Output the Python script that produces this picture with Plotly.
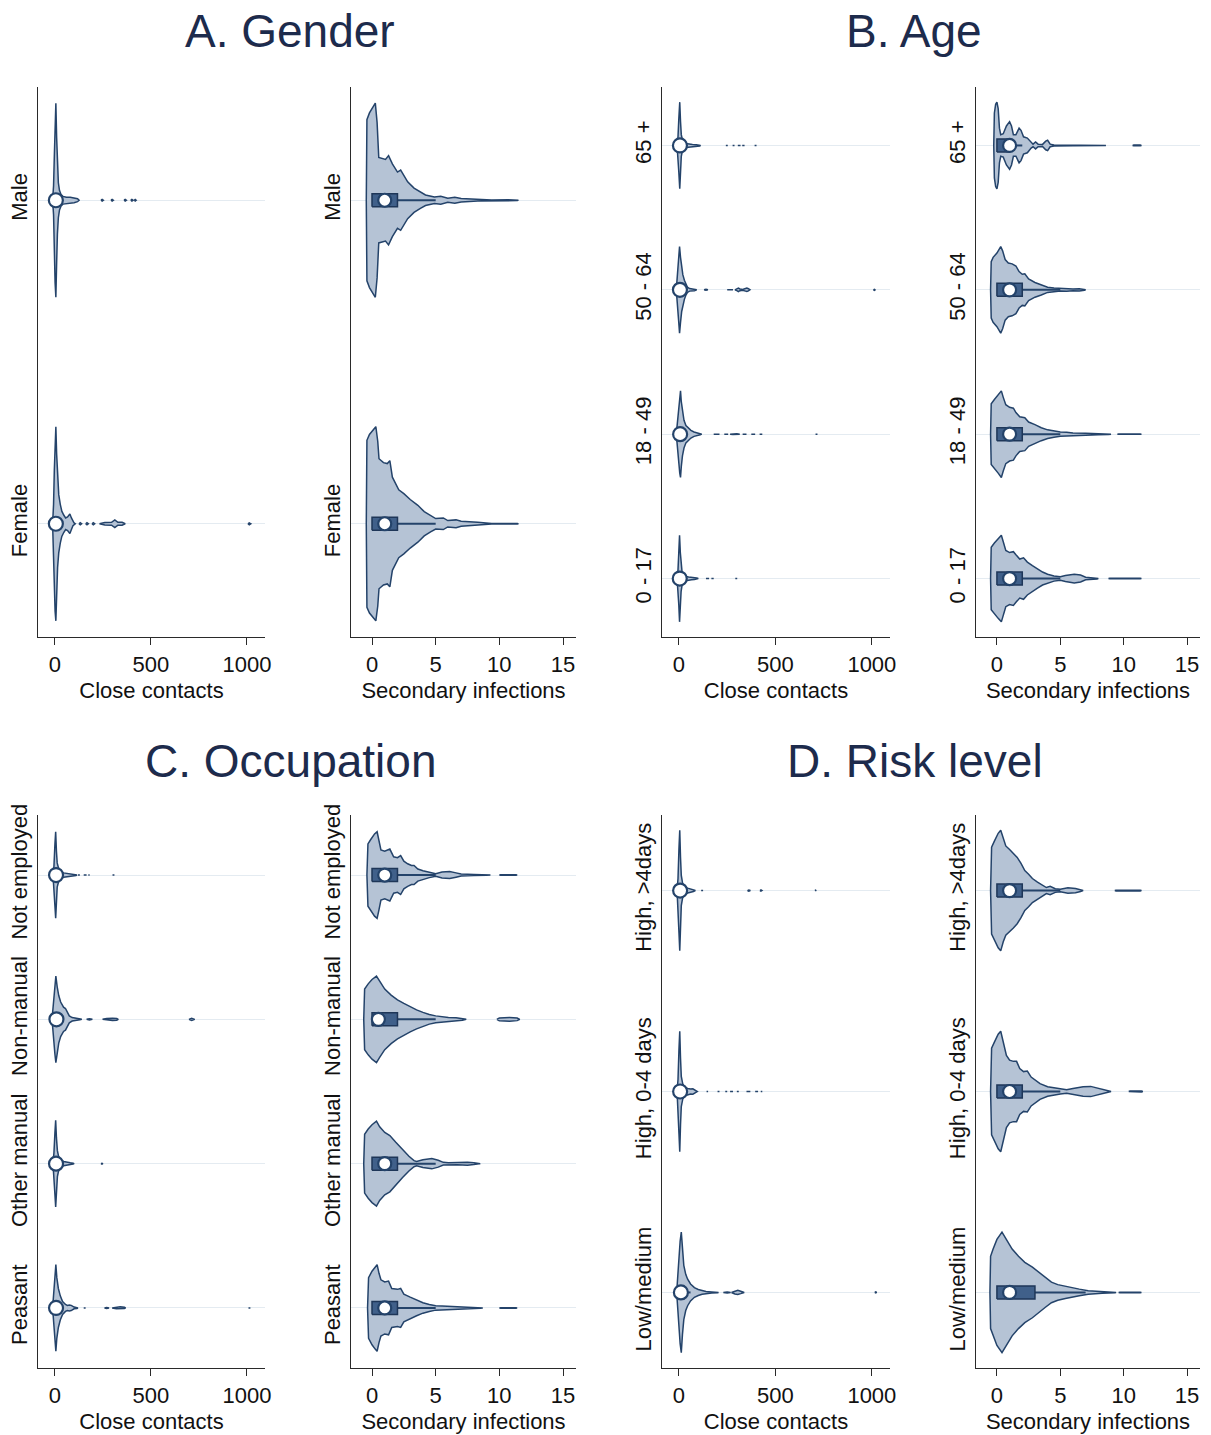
import plotly.graph_objects as go

# ---------------- categories (bottom -> top) ----------------
gender_cats = ["Female", "Male"]
age_cats = ["0 - 17", "18 - 49", "50 - 64", "65 +"]
occ_cats = ["Peasant", "Other manual", "Non-manual", "Not employed"]
risk_cats = ["Low/medium", "High, 0-4 days", "High, >4days"]

cc_ticks = [0, 500, 1000]
si_ticks = [0, 5, 10, 15]
cc_title = "Close contacts"
si_title = "Secondary infections"
panel_titles = ["A. Gender", "B. Age", "C. Occupation", "D. Risk level"]

# ---------------- violin profiles: (value, relative density) ----------------
# Gender - close contacts
female_cc = [(-12, 0), (-7, 0.2), (-3, 0.55), (1, 0.9), (5, 1.0), (9, 0.72), (14, 0.45), (20, 0.3),
             (28, 0.2), (36, 0.13), (46, 0.09), (56, 0.06), (66, 0.07), (78, 0.1), (86, 0.06),
             (94, 0.02), (100, 0.008), (106, 0),
             (125, 0), (132, 0.01), (139, 0), (160, 0), (167, 0.01), (174, 0), (193, 0), (200, 0.01), (207, 0),
             (232, 0), (260, 0.012), (295, 0.015), (312, 0.04), (328, 0.015), (350, 0.015), (366, 0),
             (1005, 0), (1012, 0.01), (1020, 0)]
male_cc = [(-12, 0), (-7, 0.15), (-3, 0.45), (1, 0.85), (5, 1.0), (9, 0.65), (13, 0.35), (18, 0.18),
           (24, 0.1), (32, 0.06), (42, 0.04), (60, 0.03), (80, 0.03), (100, 0.025), (118, 0.015), (126, 0),
           (240, 0), (246, 0.008), (252, 0), (292, 0), (298, 0.008), (304, 0), (360, 0), (366, 0.008), (372, 0),
           (395, 0), (401, 0.008), (407, 0), (413, 0), (418, 0.008), (423, 0)]
# Gender - secondary infections
female_si = [(-0.45, 0), (-0.4, 0.86), (-0.2, 0.92), (0.1, 0.97), (0.3, 1.0), (0.45, 0.85), (0.55, 0.67),
             (0.9, 0.63), (1.2, 0.62), (1.4, 0.65), (1.6, 0.48), (2.1, 0.35), (2.5, 0.31), (3.0, 0.25),
             (3.6, 0.19), (4.1, 0.125), (4.6, 0.083), (5.0, 0.054), (5.6, 0.06), (5.95, 0.033), (6.6, 0.04),
             (7.0, 0.025), (8.3, 0.015), (8.9, 0.008), (9.4, 0.003), (11.4, 0.003), (11.5, 0)]
male_si = [(-0.45, 0), (-0.4, 0.83), (-0.2, 0.9), (0.05, 0.96), (0.26, 1.0), (0.4, 0.8), (0.53, 0.44),
           (1.06, 0.42), (1.3, 0.46), (1.6, 0.375), (2.0, 0.29), (2.25, 0.31), (2.8, 0.19), (3.3, 0.125),
           (3.8, 0.083), (4.2, 0.054), (4.9, 0.033), (5.4, 0.042), (5.95, 0.02), (6.5, 0.03), (7.0, 0.017),
           (8.3, 0.008), (9.4, 0.003), (10.7, 0.004), (11.4, 0.004), (11.5, 0)]

# Age - close contacts
a0017_cc = [(-10, 0), (-5, 0.2), (-1, 0.6), (3, 1.0), (7, 0.6), (11, 0.3), (16, 0.15), (24, 0.08), (35, 0.05),
            (50, 0.035), (65, 0.03), (80, 0.025), (92, 0.015), (100, 0),
            (140, 0), (148, 0.006), (156, 0), (168, 0), (174, 0.006), (180, 0), (292, 0), (297, 0.005), (302, 0)]
a1849_cc = [(-14, 0), (-8, 0.25), (-2, 0.6), (4, 0.9), (8, 1.0), (12, 0.75), (18, 0.5), (26, 0.32), (36, 0.2),
            (48, 0.14), (62, 0.09), (78, 0.05), (95, 0.03), (110, 0.015), (118, 0),
            (180, 0), (195, 0.006), (210, 0), (235, 0), (245, 0.008), (255, 0), (265, 0), (280, 0.006),
            (300, 0.008), (315, 0), (330, 0), (340, 0.006), (350, 0), (375, 0), (385, 0.008), (395, 0),
            (418, 0), (425, 0.008), (432, 0), (708, 0), (713, 0.006), (718, 0)]
a5064_cc = [(-14, 0), (-8, 0.3), (-2, 0.7), (3, 1.0), (8, 0.75), (14, 0.5), (20, 0.35), (28, 0.22), (36, 0.12),
            (44, 0.06), (55, 0.03), (65, 0.02), (80, 0.02), (92, 0),
            (130, 0), (140, 0.01), (150, 0), (250, 0), (265, 0.008), (280, 0), (290, 0), (300, 0.02),
            (308, 0.04), (316, 0.02), (330, 0.01), (345, 0.03), (352, 0.04), (360, 0.025), (368, 0),
            (1008, 0), (1013, 0.012), (1018, 0)]
a65_cc = [(-10, 0), (-5, 0.2), (-1, 0.6), (4, 1.0), (8, 0.55), (12, 0.25), (18, 0.12), (26, 0.07), (36, 0.045),
          (50, 0.03), (70, 0.02), (90, 0.015), (108, 0.01), (112, 0),
          (243, 0), (248, 0.006), (253, 0), (278, 0), (283, 0.006), (288, 0), (305, 0), (312, 0.006), (319, 0),
          (328, 0), (334, 0.006), (340, 0), (392, 0), (397, 0.008), (402, 0)]
# Age - secondary infections
a0017_si = [(-0.5, 0), (-0.45, 0.72), (-0.2, 0.82), (0.1, 0.92), (0.35, 1.0), (0.5, 0.85), (0.7, 0.65),
            (1.0, 0.6), (1.3, 0.62), (1.5, 0.55), (1.8, 0.45), (2.1, 0.48), (2.4, 0.38), (2.8, 0.3),
            (3.2, 0.22), (3.6, 0.15), (4.0, 0.1), (4.5, 0.06), (5.0, 0.04), (5.4, 0.07), (6.1, 0.1),
            (6.6, 0.08), (7.0, 0.03), (7.5, 0.02), (7.9, 0.01), (8.0, 0), (8.8, 0), (8.9, 0.004),
            (11.3, 0.004), (11.4, 0)]
a1849_si = [(-0.5, 0), (-0.45, 0.7), (-0.2, 0.8), (0.1, 0.9), (0.35, 1.0), (0.5, 0.85), (0.7, 0.68),
            (1.0, 0.62), (1.3, 0.6), (1.5, 0.5), (1.8, 0.4), (2.2, 0.38), (2.5, 0.28), (3.0, 0.22),
            (3.5, 0.15), (4.0, 0.1), (4.5, 0.07), (5.0, 0.05), (5.5, 0.045), (6.0, 0.03), (7.0, 0.02),
            (8.0, 0.012), (8.8, 0.008), (9.0, 0), (9.5, 0), (9.6, 0.004), (11.3, 0.004), (11.4, 0)]
a5064_si = [(-0.5, 0), (-0.45, 0.65), (-0.3, 0.75), (0.0, 0.85), (0.3, 1.0), (0.45, 0.9), (0.65, 0.7),
            (0.9, 0.62), (1.2, 0.6), (1.5, 0.55), (1.75, 0.42), (2.0, 0.36), (2.2, 0.37), (2.5, 0.25),
            (3.0, 0.17), (3.5, 0.12), (4.0, 0.06), (4.5, 0.04), (5.0, 0.03), (5.5, 0.035), (6.0, 0.02),
            (6.5, 0.025), (6.9, 0.01), (7.0, 0)]
a65_si = [(-0.25, 0), (-0.2, 0.75), (-0.1, 0.95), (0.0, 1.0), (0.1, 0.85), (0.2, 0.4), (0.3, 0.25),
          (0.5, 0.27), (0.75, 0.45), (1.0, 0.55), (1.15, 0.45), (1.3, 0.25), (1.5, 0.25), (1.75, 0.4),
          (1.9, 0.35), (2.1, 0.2), (2.4, 0.17), (2.7, 0.06), (2.85, 0.03), (3.05, 0.08), (3.25, 0.03),
          (3.6, 0.025), (3.85, 0.1), (4.0, 0.12), (4.2, 0.03), (4.5, 0.01), (6.0, 0.006), (7.0, 0.005),
          (8.5, 0.004), (8.6, 0), (10.7, 0), (10.8, 0.008), (11.3, 0.008), (11.4, 0)]

# Occupation - close contacts
peasant_cc = [(-12, 0), (-6, 0.3), (0, 0.75), (5, 1.0), (10, 0.7), (18, 0.45), (28, 0.28), (40, 0.15),
              (55, 0.08), (65, 0.06), (75, 0.07), (85, 0.06), (100, 0.02), (115, 0.01), (120, 0),
              (150, 0), (155, 0.005), (160, 0), (258, 0), (270, 0.01), (282, 0), (298, 0), (320, 0.02),
              (340, 0.025), (362, 0.015), (368, 0), (1008, 0), (1013, 0.008), (1018, 0)]
othman_cc = [(-10, 0), (-5, 0.25), (0, 0.7), (4, 1.0), (8, 0.6), (13, 0.3), (20, 0.15), (30, 0.08),
             (45, 0.05), (60, 0.03), (80, 0.02), (95, 0.01), (100, 0), (240, 0), (245, 0.01), (250, 0)]
nonman_cc = [(-15, 0), (-8, 0.35), (0, 0.8), (5, 1.0), (12, 0.75), (20, 0.55), (30, 0.4), (45, 0.28),
             (55, 0.25), (65, 0.15), (75, 0.08), (90, 0.04), (110, 0.02), (130, 0.01), (140, 0),
             (165, 0), (180, 0.015), (195, 0), (248, 0), (270, 0.02), (300, 0.025), (322, 0.02), (330, 0),
             (698, 0), (712, 0.025), (728, 0)]
notemp_cc = [(-10, 0), (-5, 0.2), (0, 0.7), (4, 1.0), (8, 0.55), (12, 0.28), (20, 0.14), (30, 0.08),
             (45, 0.05), (60, 0.04), (75, 0.03), (90, 0.02), (110, 0.01), (115, 0),
             (120, 0), (125, 0.006), (130, 0), (150, 0), (157, 0.006), (165, 0), (174, 0), (177, 0.006),
             (181, 0), (300, 0), (305, 0.008), (310, 0)]
# Occupation - secondary infections
peasant_si = [(-0.35, 0), (-0.27, 0.7), (0.0, 0.85), (0.25, 0.95), (0.4, 1.0), (0.55, 0.8), (0.7, 0.65),
              (1.0, 0.6), (1.3, 0.62), (1.55, 0.45), (2.0, 0.43), (2.25, 0.45), (2.5, 0.32), (3.0, 0.25),
              (3.5, 0.18), (4.0, 0.12), (4.5, 0.08), (5.0, 0.05), (5.5, 0.045), (6.0, 0.04), (6.7, 0.03),
              (7.5, 0.015), (8.5, 0.006), (8.7, 0), (10.0, 0), (10.1, 0.004), (11.3, 0.004), (11.4, 0)]
othman_si = [(-0.65, 0), (-0.58, 0.68), (-0.3, 0.8), (0.0, 0.9), (0.35, 0.98), (0.6, 0.85), (1.0, 0.72),
             (1.4, 0.65), (1.85, 0.5), (2.4, 0.32), (2.9, 0.17), (3.3, 0.07), (3.5, 0.05), (4.0, 0.09),
             (4.7, 0.12), (5.2, 0.08), (5.6, 0.03), (6.0, 0.02), (6.7, 0.025), (7.5, 0.035), (8.0, 0.02),
             (8.4, 0.005), (8.5, 0)]
nonman_si = [(-0.65, 0), (-0.58, 0.7), (-0.3, 0.82), (0.0, 0.92), (0.35, 1.0), (0.6, 0.88), (1.0, 0.7),
             (1.5, 0.56), (2.0, 0.45), (2.5, 0.37), (3.0, 0.29), (3.5, 0.22), (4.0, 0.16), (4.5, 0.11),
             (5.0, 0.08), (5.5, 0.06), (6.0, 0.045), (6.6, 0.035), (7.1, 0.02), (7.4, 0),
             (9.8, 0), (10.0, 0.03), (10.8, 0.045), (11.4, 0.03), (11.6, 0)]
notemp_si = [(-0.4, 0), (-0.32, 0.72), (-0.1, 0.82), (0.2, 0.95), (0.4, 1.0), (0.55, 0.8), (0.7, 0.58),
             (1.0, 0.55), (1.4, 0.6), (1.7, 0.42), (2.0, 0.4), (2.25, 0.45), (2.5, 0.32), (2.8, 0.26),
             (3.1, 0.22), (3.3, 0.22), (3.6, 0.14), (4.0, 0.1), (4.5, 0.06), (5.0, 0.03), (5.5, 0.07),
             (6.1, 0.08), (6.6, 0.05), (7.0, 0.025), (8.0, 0.012), (9.0, 0.006), (9.3, 0),
             (10.0, 0), (10.1, 0.006), (11.3, 0.006), (11.4, 0)]

# Risk level - close contacts
lowmed_cc = [(-12, 0), (-6, 0.3), (0, 0.6), (6, 0.85), (12, 1.0), (18, 0.7), (25, 0.45), (35, 0.3),
             (45, 0.22), (60, 0.14), (80, 0.08), (100, 0.05), (120, 0.03), (140, 0.015), (170, 0.008),
             (200, 0.004), (205, 0),
             (230, 0), (250, 0.008), (268, 0), (272, 0), (290, 0.025), (305, 0.035), (320, 0.02), (338, 0),
             (1015, 0), (1020, 0.008), (1025, 0)]
high04_cc = [(-10, 0), (-5, 0.2), (0, 0.7), (4, 1.0), (8, 0.55), (12, 0.25), (20, 0.12), (30, 0.07),
             (45, 0.05), (60, 0.04), (72, 0.045), (80, 0.03), (90, 0.01), (95, 0),
             (143, 0), (147, 0.005), (151, 0), (200, 0), (205, 0.005), (210, 0), (240, 0), (245, 0.005),
             (250, 0), (265, 0), (272, 0.005), (280, 0), (300, 0), (305, 0.005), (310, 0), (350, 0),
             (360, 0.006), (370, 0), (395, 0), (402, 0.005), (410, 0), (424, 0), (428, 0.005), (432, 0)]
high4p_cc = [(-10, 0), (-5, 0.2), (0, 0.7), (4, 1.0), (8, 0.55), (12, 0.25), (20, 0.1), (30, 0.06),
             (45, 0.04), (60, 0.025), (75, 0.015), (85, 0),
             (115, 0), (120, 0.005), (125, 0), (355, 0), (362, 0.01), (370, 0), (420, 0), (425, 0.01),
             (430, 0), (705, 0), (708, 0.008), (712, 0)]
# Risk level - secondary infections
lowmed_si = [(-0.55, 0), (-0.5, 0.6), (-0.3, 0.72), (0.0, 0.88), (0.4, 1.0), (0.7, 0.9), (1.2, 0.72),
             (1.7, 0.6), (2.2, 0.5), (2.8, 0.42), (3.3, 0.34), (3.8, 0.25), (4.3, 0.17), (4.8, 0.13),
             (5.4, 0.1), (6.0, 0.07), (6.5, 0.055), (7.2, 0.03), (8.3, 0.012), (9.3, 0.004), (9.4, 0),
             (9.6, 0), (9.7, 0.003), (11.3, 0.003), (11.4, 0)]
high04_si = [(-0.5, 0), (-0.42, 0.72), (-0.2, 0.82), (0.1, 0.95), (0.3, 1.0), (0.5, 0.8), (0.75, 0.6),
             (1.0, 0.52), (1.3, 0.5), (1.55, 0.5), (1.8, 0.38), (2.1, 0.33), (2.4, 0.34), (2.7, 0.24),
             (3.0, 0.19), (3.4, 0.13), (4.0, 0.08), (4.5, 0.06), (5.0, 0.04), (5.5, 0.03), (6.0, 0.05),
             (6.8, 0.08), (7.4, 0.085), (8.0, 0.05), (8.6, 0.02), (9.0, 0),
             (10.4, 0), (10.5, 0.01), (11.4, 0.01), (11.5, 0)]
high4p_si = [(-0.5, 0), (-0.42, 0.72), (-0.2, 0.82), (0.1, 0.95), (0.3, 1.0), (0.5, 0.85), (0.7, 0.74),
             (1.0, 0.68), (1.3, 0.62), (1.6, 0.55), (1.9, 0.45), (2.2, 0.33), (2.5, 0.27), (2.8, 0.2),
             (3.2, 0.14), (3.6, 0.09), (3.9, 0.05), (4.2, 0.07), (4.6, 0.03), (5.0, 0.02), (5.6, 0.045),
             (6.2, 0.035), (6.6, 0.015), (6.8, 0), (9.3, 0), (9.4, 0.006), (11.3, 0.006), (11.4, 0)]

# ---------------- box statistics per category: (q1, median, q3, upper adjacent) ----------------
gender_cc_box = [(1, 5, 12, 30), (1, 5, 12, 30)]
gender_si_box = [(0, 1, 2, 5), (0, 1, 2, 5)]
age_cc_box = [(1, 4, 10, 25), (1, 6, 14, 35), (1, 5, 12, 30), (1, 5, 10, 25)]
age_si_box = [(0, 1, 2, 5), (0, 1, 2, 5), (0, 1, 2, 5), (0, 1, 1, 2)]
occ_cc_box = [(1, 6, 14, 35), (1, 6, 12, 30), (1, 8, 18, 45), (1, 6, 12, 30)]
occ_si_box = [(0, 1, 2, 5), (0, 1, 2, 5), (0, 0.5, 2, 5), (0, 1, 2, 5)]
risk_cc_box = [(2, 10, 25, 60), (1, 6, 12, 30), (1, 6, 12, 30)]
risk_si_box = [(0, 1, 3, 7), (0, 1, 2, 5), (0, 1, 2, 5)]

# ---------------- styling ----------------
W, H = 1211, 1435
FONT = "Liberation Sans, Arial, Helvetica, sans-serif"
FILL = "#b5c3d5"
EDGE = "#24436a"
BOXFILL = "#40608a"
BOXEDGE = "#1e3658"
GRID = "#e4ebf1"
AXIS = "#2a2a2a"
TITLE_COL = "#1d2b4c"
HALF = 0.30          # max half-width of a violin in category units
BOX_HALF_PX = 6.5

col_px = [(38, 265), (351, 576), (662, 890), (976, 1200)]
row_px = [(87, 637), (815, 1368)]
cc_range = [-88, 1094]
si_range = [-1.65, 16.02]

panels = [
    # (row, col, cats, profiles, boxes, metric, pad)
    (0, 0, gender_cats, [female_cc, male_cc], gender_cc_box, "cc", 0.35),
    (0, 1, gender_cats, [female_si, male_si], gender_si_box, "si", 0.35),
    (0, 2, age_cats, [a0017_cc, a1849_cc, a5064_cc, a65_cc], age_cc_box, "cc", 0.405),
    (0, 3, age_cats, [a0017_si, a1849_si, a5064_si, a65_si], age_si_box, "si", 0.405),
    (1, 0, occ_cats, [peasant_cc, othman_cc, nonman_cc, notemp_cc], occ_cc_box, "cc", 0.416),
    (1, 1, occ_cats, [peasant_si, othman_si, nonman_si, notemp_si], occ_si_box, "si", 0.416),
    (1, 2, risk_cats, [lowmed_cc, high04_cc, high4p_cc], risk_cc_box, "cc", 0.376),
    (1, 3, risk_cats, [lowmed_si, high04_si, high4p_si], risk_si_box, "si", 0.376),
]


def split_runs(profile):
    segs, cur = [], []
    for x, d in profile:
        if d == 0:
            if any(dd > 0 for _, dd in cur):
                cur.append((x, d))
                segs.append(cur)
            cur = [(x, d)]
        else:
            cur.append((x, d))
    if any(dd > 0 for _, dd in cur):
        segs.append(cur)
    return segs


def fx(px):
    return px / W


def fy(py):
    return 1 - py / H


fig = go.Figure()
layout = dict(width=W, height=H, autosize=False,
              margin=dict(l=0, r=0, t=0, b=0, pad=0, autoexpand=False),
              paper_bgcolor="white", plot_bgcolor="white", showlegend=False,
              font=dict(family=FONT, size=22, color="#111111"))

for i, (r, c, cats, profiles, boxes, metric, pad) in enumerate(panels, start=1):
    xa = "x" if i == 1 else f"x{i}"
    ya = "y" if i == 1 else f"y{i}"
    x0, x1 = col_px[c]
    y0, y1 = row_px[r]
    yr = [-pad, len(cats) - 1 + pad]
    px_per_unit = (y1 - y0) / (yr[1] - yr[0])
    bh = BOX_HALF_PX / px_per_unit
    msize = 14 if metric == "cc" else 13

    for k, prof in enumerate(profiles):
        pos = k
        xs, ys = [], []
        for seg in split_runs(prof):
            up_x = [p[0] for p in seg]
            up_y = [pos + HALF * p[1] for p in seg]
            lo_x = [p[0] for p in reversed(seg)]
            lo_y = [pos - HALF * p[1] for p in reversed(seg)]
            xs += up_x + lo_x + [up_x[0], None]
            ys += up_y + lo_y + [up_y[0], None]
        fig.add_trace(go.Scatter(x=xs, y=ys, xaxis=xa, yaxis=ya, mode="lines",
                                 fill="toself", fillcolor=FILL,
                                 line=dict(color=EDGE, width=1.5), hoverinfo="skip"))
        q1, med, q3, up = boxes[k]
        fig.add_trace(go.Scatter(x=[q3, up], y=[pos, pos], xaxis=xa, yaxis=ya, mode="lines",
                                 line=dict(color=EDGE, width=2), hoverinfo="skip"))
        fig.add_trace(go.Scatter(x=[q1, q3, q3, q1, q1], y=[pos - bh, pos - bh, pos + bh, pos + bh, pos - bh],
                                 xaxis=xa, yaxis=ya, mode="lines", fill="toself", fillcolor=BOXFILL,
                                 line=dict(color=BOXEDGE, width=1.5), hoverinfo="skip"))
        fig.add_trace(go.Scatter(x=[med], y=[pos], xaxis=xa, yaxis=ya, mode="markers",
                                 marker=dict(symbol="circle", size=msize, color="white",
                                             line=dict(color=EDGE, width=2.2)),
                                 hoverinfo="skip"))

    layout["xaxis" if i == 1 else f"xaxis{i}"] = dict(
        domain=[fx(x0), fx(x1)], anchor=ya, range=cc_range if metric == "cc" else si_range,
        tickvals=cc_ticks if metric == "cc" else si_ticks, ticks="outside", ticklen=7, tickwidth=1.3,
        tickcolor=AXIS, showline=True, linecolor=AXIS, linewidth=1.4, showgrid=False, zeroline=False,
        tickfont=dict(size=22, color="#111111"), automargin=False,
        title=dict(text=cc_title if metric == "cc" else si_title, font=dict(size=22, color="#111111"),
                   standoff=7),
        fixedrange=True)
    layout["yaxis" if i == 1 else f"yaxis{i}"] = dict(
        domain=[fy(y1), fy(y0)], anchor=xa, range=yr,
        tickvals=list(range(len(cats))), ticktext=cats, tickangle=-90, ticks="",
        showline=True, linecolor=AXIS, linewidth=1.4, showgrid=True, gridcolor=GRID, gridwidth=1,
        zeroline=False, tickfont=dict(size=22, color="#111111"), ticklabelstandoff=1,
        automargin=False, fixedrange=True)

title_pos = [(290, 31), (914, 31), (290, 761), (915, 761)]
annotations = []
for txt, (tx, ty) in zip(panel_titles, title_pos):
    annotations.append(dict(text=txt, x=fx(tx), y=fy(ty), xref="paper", yref="paper",
                            xanchor="center", yanchor="middle", showarrow=False,
                            font=dict(size=46, color=TITLE_COL, family=FONT)))
layout["annotations"] = annotations

fig.update_layout(**layout)
# remove the default page margin so the figure sits at the window's top-left corner
fig.write_html("out.html", config={"displayModeBar": False},
               post_script="document.body.style.margin='0px';document.body.style.overflow='hidden';")
